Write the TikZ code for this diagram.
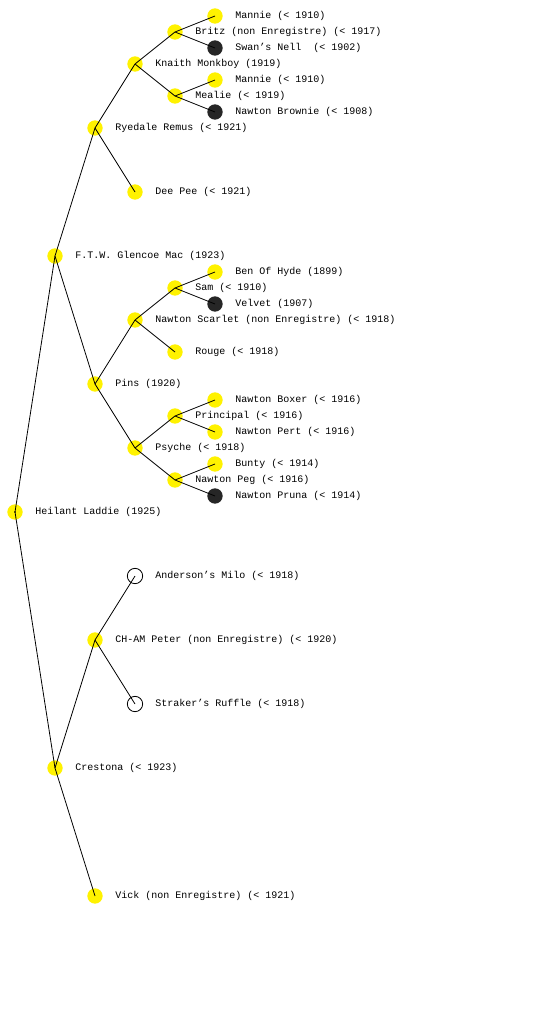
\documentclass[tikz,border=0pt]{standalone}
\usepackage{fontspec}
\setmonofont{Liberation Mono}
\begin{document}
\begin{tikzpicture}[x=0.75pt,y=-0.75pt,
  yel/.style={circle,fill=yellow,draw=none,minimum size=11.5pt,inner sep=0pt},
  blk/.style={circle,fill=black!85,draw=none,minimum size=11.5pt,inner sep=0pt},
  opn/.style={circle,fill=white,draw=black,line width=0.6pt,minimum size=11.5pt,inner sep=0pt},
  lbl/.style={anchor=west,inner sep=0pt,font=\ttfamily\fontsize{7.5pt}{9pt}\selectfont},
  edge/.style={draw=black,line width=0.6pt}]
\useasboundingbox (0,0) rectangle (560,1024);
% nodes
\node[yel] (hl) at (15,512) {};
\node[yel] (ftw) at (55,256) {};
\node[yel] (cr) at (55,768) {};
\node[yel] (ry) at (95,128) {};
\node[yel] (pi) at (95,384) {};
\node[yel] (ch) at (95,640) {};
\node[yel] (vi) at (95,896) {};
\node[yel] (kn) at (135,64) {};
\node[yel] (dp) at (135,192) {};
\node[yel] (ns) at (135,320) {};
\node[yel] (ps) at (135,448) {};
\node[opn] (an) at (135,576) {};
\node[opn] (st) at (135,704) {};
\node[yel] (br) at (175,32) {};
\node[yel] (me) at (175,96) {};
\node[yel] (sa) at (175,288) {};
\node[yel] (ro) at (175,352) {};
\node[yel] (pr) at (175,416) {};
\node[yel] (np) at (175,480) {};
\node[yel] (m1) at (215,16) {};
\node[blk] (sw) at (215,48) {};
\node[yel] (m2) at (215,80) {};
\node[blk] (nb) at (215,112) {};
\node[yel] (be) at (215,272) {};
\node[blk] (ve) at (215,304) {};
\node[yel] (bo) at (215,400) {};
\node[yel] (pe) at (215,432) {};
\node[yel] (bu) at (215,464) {};
\node[blk] (pu) at (215,496) {};
% edges
\path[edge] (hl.center) -- (ftw.center) (hl.center) -- (cr.center);
\path[edge] (ftw.center) -- (ry.center) (ftw.center) -- (pi.center);
\path[edge] (ry.center) -- (kn.center) (ry.center) -- (dp.center);
\path[edge] (kn.center) -- (br.center) (kn.center) -- (me.center);
\path[edge] (br.center) -- (m1.center) (br.center) -- (sw.center);
\path[edge] (me.center) -- (m2.center) (me.center) -- (nb.center);
\path[edge] (pi.center) -- (ns.center) (pi.center) -- (ps.center);
\path[edge] (ns.center) -- (sa.center) (ns.center) -- (ro.center);
\path[edge] (sa.center) -- (be.center) (sa.center) -- (ve.center);
\path[edge] (ps.center) -- (pr.center) (ps.center) -- (np.center);
\path[edge] (pr.center) -- (bo.center) (pr.center) -- (pe.center);
\path[edge] (np.center) -- (bu.center) (np.center) -- (pu.center);
\path[edge] (cr.center) -- (ch.center) (cr.center) -- (vi.center);
\path[edge] (ch.center) -- (an.center) (ch.center) -- (st.center);
\fill (hl.center) circle (0.6pt);
% labels
\node[lbl] (thl) at (35,512) {Heilant Laddie (1925)};
\node[lbl] (tftw) at (75,256) {F.T.W. Glencoe Mac (1923)};
\node[lbl] (tcr) at (75,768) {Crestona (< 1923)};
\node[lbl] (try) at (115,128) {Ryedale Remus (< 1921)};
\node[lbl] (tpi) at (115,384) {Pins (1920)};
\node[lbl] (tch) at (115,640) {CH-AM Peter (non Enregistre) (< 1920)};
\node[lbl] (tvi) at (115,896) {Vick (non Enregistre) (< 1921)};
\node[lbl] (tkn) at (155,64) {Knaith Monkboy (1919)};
\node[lbl] (tdp) at (155,192) {Dee Pee (< 1921)};
\node[lbl] (tns) at (155,320) {Nawton Scarlet (non Enregistre) (< 1918)};
\node[lbl] (tps) at (155,448) {Psyche (< 1918)};
\node[lbl] (tan) at (155,576) {Anderson’s Milo (< 1918)};
\node[lbl] (tst) at (155,704) {Straker’s Ruffle (< 1918)};
\node[lbl] (tbr) at (195,32) {Britz (non Enregistre) (< 1917)};
\node[lbl] (tme) at (195,96) {Mealie (< 1919)};
\node[lbl] (tsa) at (195,288) {Sam (< 1910)};
\node[lbl] (tro) at (195,352) {Rouge (< 1918)};
\node[lbl] (tpr) at (195,416) {Principal (< 1916)};
\node[lbl] (tnp) at (195,480) {Nawton Peg (< 1916)};
\node[lbl] (tm1) at (235,16) {Mannie (< 1910)};
\node[lbl] (tsw) at (235,48) {Swan’s Nell\ \ (< 1902)};
\node[lbl] (tm2) at (235,80) {Mannie (< 1910)};
\node[lbl] (tnb) at (235,112) {Nawton Brownie (< 1908)};
\node[lbl] (tbe) at (235,272) {Ben Of Hyde (1899)};
\node[lbl] (tve) at (235,304) {Velvet (1907)};
\node[lbl] (tbo) at (235,400) {Nawton Boxer (< 1916)};
\node[lbl] (tpe) at (235,432) {Nawton Pert (< 1916)};
\node[lbl] (tbu) at (235,464) {Bunty (< 1914)};
\node[lbl] (tpu) at (235,496) {Nawton Pruna (< 1914)};
\end{tikzpicture}
\end{document}
